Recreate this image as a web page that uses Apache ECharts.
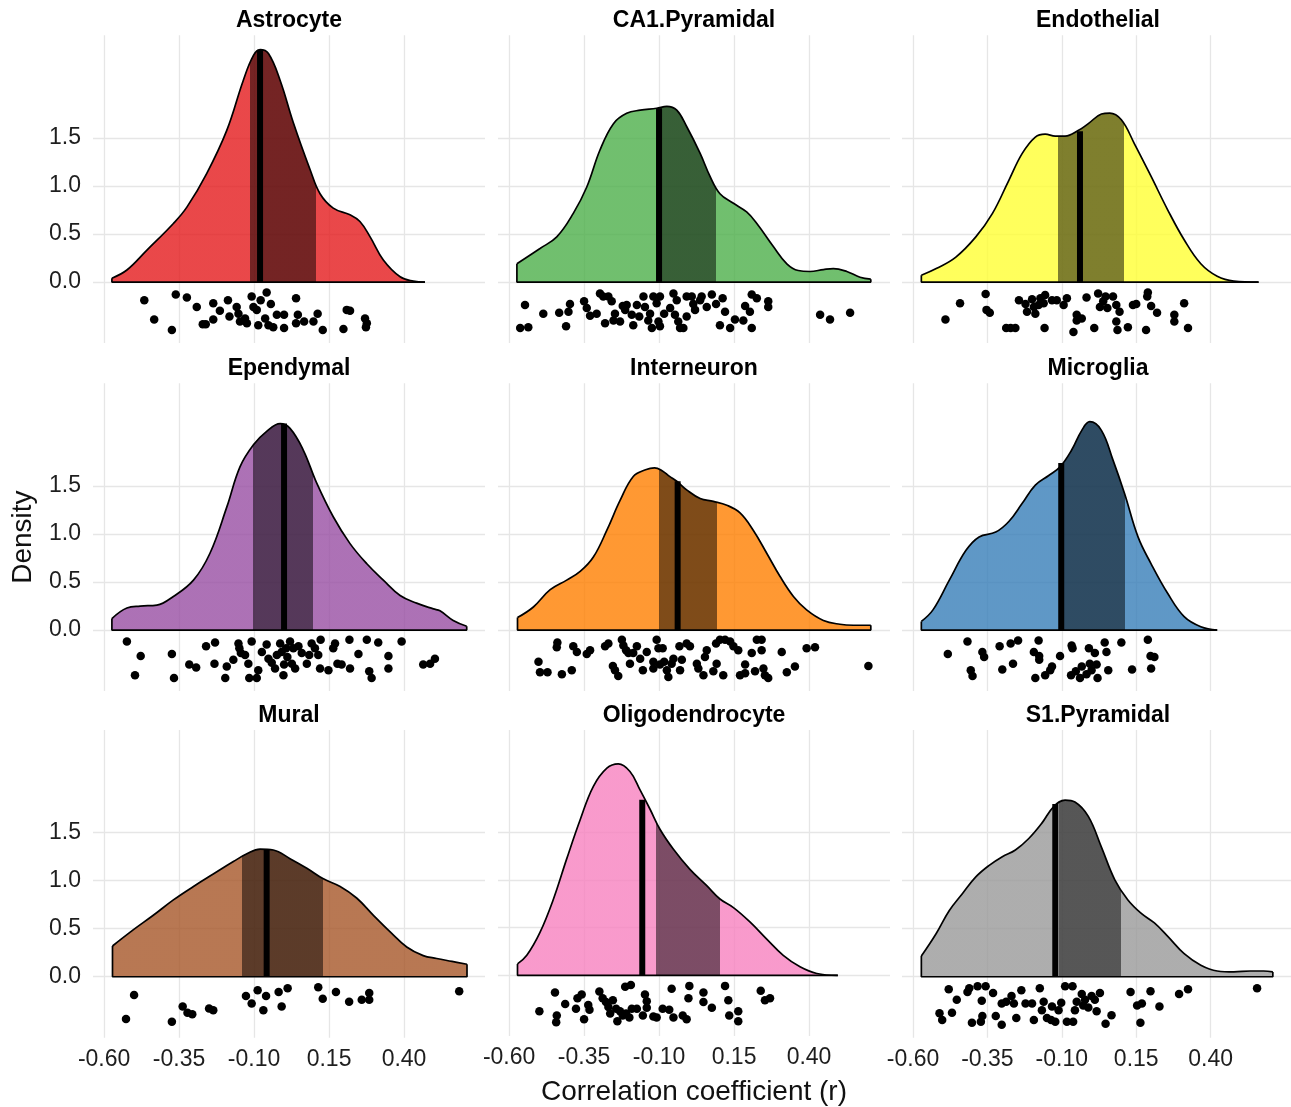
<!DOCTYPE html>
<html><head><meta charset="utf-8">
<script src="https://cdn.jsdelivr.net/npm/echarts@6/dist/echarts.min.js"></script>
<style>html,body{margin:0;padding:0;background:#fff}#c{width:1291px;height:1107px}</style>
</head><body><div id="c"></div>
<script>
const cellTypes = ['Astrocyte','CA1.Pyramidal','Endothelial','Ependymal','Interneuron','Microglia','Mural','Oligodendrocyte','S1.Pyramidal'];
const baseColors = ['#E41A1C','#4DAF4A','#FFFF33','#984EA3','#FF7F00','#377EB8','#A65628','#F781BF','#999999'];
const xTicks = [-0.6,-0.35,-0.1,0.15,0.4];
const yTicks = [0,0.5,1,1.5];

const astrocyteDensity = [[-0.574,0.04],[-0.524,0.125],[-0.458,0.33],[-0.369,0.61],[-0.324,0.78],[-0.258,1.13],[-0.191,1.58],[-0.136,2.10],[-0.102,2.36],[-0.08,2.42],[-0.052,2.38],[-0.013,2.10],[0.031,1.66],[0.087,1.17],[0.12,0.92],[0.164,0.77],[0.22,0.70],[0.253,0.63],[0.287,0.47],[0.331,0.23],[0.387,0.055],[0.431,0.01],[0.47,0.0]];
const ca1Density = [[-0.574,0.19],[-0.497,0.35],[-0.441,0.47],[-0.386,0.715],[-0.341,0.99],[-0.297,1.375],[-0.252,1.65],[-0.208,1.757],[-0.163,1.79],[-0.108,1.81],[-0.074,1.83],[-0.041,1.79],[-0.008,1.62],[0.037,1.34],[0.07,1.10],[0.103,0.92],[0.148,0.82],[0.192,0.73],[0.226,0.61],[0.281,0.37],[0.326,0.19],[0.364,0.12],[0.403,0.11],[0.448,0.13],[0.481,0.14],[0.526,0.11],[0.57,0.05],[0.606,0.03]];
const endothelialDensity = [[-0.572,0.07],[-0.522,0.14],[-0.456,0.26],[-0.389,0.47],[-0.333,0.715],[-0.278,1.06],[-0.233,1.34],[-0.189,1.51],[-0.156,1.54],[-0.122,1.52],[-0.089,1.52],[-0.044,1.58],[-0.011,1.65],[0.033,1.75],[0.061,1.76],[0.1,1.69],[0.144,1.44],[0.2,1.10],[0.256,0.75],[0.311,0.44],[0.367,0.19],[0.422,0.06],[0.478,0.01],[0.561,0.0]];
const ependymalDensity = [[-0.574,0.12],[-0.524,0.23],[-0.48,0.25],[-0.424,0.26],[-0.369,0.35],[-0.302,0.52],[-0.247,0.80],[-0.191,1.28],[-0.147,1.70],[-0.102,1.93],[-0.058,2.07],[-0.013,2.15],[0.02,2.10],[0.064,1.875],[0.109,1.53],[0.164,1.18],[0.22,0.90],[0.276,0.69],[0.331,0.52],[0.387,0.36],[0.442,0.28],[0.498,0.22],[0.52,0.2],[0.564,0.10],[0.609,0.04]];
const interneuronDensity = [[-0.572,0.13],[-0.519,0.24],[-0.463,0.42],[-0.408,0.52],[-0.363,0.61],[-0.319,0.76],[-0.274,1.04],[-0.23,1.35],[-0.186,1.60],[-0.145,1.67],[-0.115,1.69],[-0.09,1.66],[-0.065,1.60],[-0.041,1.55],[-0.008,1.46],[0.037,1.37],[0.081,1.34],[0.126,1.30],[0.17,1.22],[0.214,1.04],[0.259,0.80],[0.303,0.56],[0.348,0.35],[0.392,0.21],[0.448,0.10],[0.503,0.06],[0.548,0.05],[0.606,0.05]];
const microgliaDensity = [[-0.572,0.09],[-0.533,0.21],[-0.478,0.52],[-0.422,0.83],[-0.378,0.97],[-0.322,1.02],[-0.278,1.13],[-0.233,1.32],[-0.189,1.51],[-0.144,1.61],[-0.106,1.70],[-0.067,1.875],[-0.033,2.08],[-0.006,2.17],[0.033,2.08],[0.072,1.77],[0.111,1.42],[0.156,0.97],[0.2,0.69],[0.256,0.38],[0.311,0.14],[0.367,0.035],[0.422,0.0]];
const muralDensity = [[-0.572,0.32],[-0.502,0.49],[-0.436,0.64],[-0.369,0.80],[-0.302,0.94],[-0.236,1.07],[-0.169,1.20],[-0.124,1.28],[-0.08,1.33],[-0.036,1.32],[0.02,1.23],[0.076,1.13],[0.131,1.02],[0.187,0.94],[0.242,0.82],[0.298,0.64],[0.353,0.47],[0.409,0.31],[0.464,0.22],[0.509,0.19],[0.56,0.16],[0.61,0.13]];
const oligodendrocyteDensity = [[-0.572,0.12],[-0.541,0.21],[-0.497,0.45],[-0.452,0.80],[-0.408,1.22],[-0.363,1.63],[-0.319,1.98],[-0.274,2.17],[-0.236,2.215],[-0.197,2.135],[-0.163,1.94],[-0.13,1.74],[-0.097,1.53],[-0.052,1.32],[0.003,1.11],[0.059,0.94],[0.103,0.80],[0.148,0.71],[0.203,0.56],[0.259,0.38],[0.314,0.21],[0.37,0.09],[0.426,0.02],[0.496,0.0]];
const s1Density = [[-0.572,0.215],[-0.522,0.45],[-0.478,0.69],[-0.433,0.87],[-0.389,1.04],[-0.344,1.16],[-0.3,1.25],[-0.256,1.32],[-0.211,1.44],[-0.167,1.60],[-0.128,1.77],[-0.089,1.84],[-0.056,1.82],[-0.011,1.67],[0.033,1.35],[0.078,1.01],[0.122,0.80],[0.167,0.66],[0.211,0.56],[0.256,0.42],[0.311,0.24],[0.367,0.12],[0.422,0.06],[0.478,0.05],[0.533,0.06],[0.578,0.06],[0.609,0.05]];

const q1Values = [-0.113,-0.11,-0.113,-0.102,-0.1,-0.1,-0.139,-0.11,-0.111];
const medianValues = [-0.08,-0.1,-0.039,0.0,-0.038,-0.102,-0.058,-0.156,-0.122];
const q3Values = [0.107,0.09,0.108,0.096,0.092,0.111,0.131,0.103,0.1];
const medianHeights = [2.42,1.81,1.57,2.15,1.55,1.74,1.32,1.84,1.80];

const astrocytePoints = [[-0.466,-0.19],[-0.433,-0.39],[-0.374,-0.5],[-0.361,-0.13],[-0.324,-0.16],[-0.291,-0.26],[-0.271,-0.44],[-0.261,-0.44],[-0.236,-0.22],[-0.236,-0.39],[-0.214,-0.3],[-0.187,-0.19],[-0.182,-0.36],[-0.158,-0.26],[-0.152,-0.33],[-0.147,-0.41],[-0.13,-0.38],[-0.124,-0.43],[-0.108,-0.15],[-0.102,-0.26],[-0.091,-0.29],[-0.086,-0.45],[-0.078,-0.19],[-0.063,-0.38],[-0.058,-0.11],[-0.052,-0.45],[-0.044,-0.23],[-0.036,-0.47],[-0.024,-0.34],[0.0,-0.34],[0.0,-0.48],[0.04,-0.17],[0.046,-0.34],[0.04,-0.43],[0.067,-0.41],[0.098,-0.41],[0.112,-0.33],[0.129,-0.5],[0.198,-0.49],[0.209,-0.29],[0.22,-0.3],[0.27,-0.38],[0.273,-0.47],[0.276,-0.43]];
const ca1Points = [[-0.547,-0.24],[-0.563,-0.48],[-0.536,-0.47],[-0.486,-0.33],[-0.433,-0.32],[-0.41,-0.46],[-0.397,-0.23],[-0.402,-0.31],[-0.35,-0.2],[-0.341,-0.27],[-0.33,-0.35],[-0.308,-0.33],[-0.297,-0.12],[-0.286,-0.15],[-0.28,-0.43],[-0.269,-0.15],[-0.258,-0.2],[-0.252,-0.4],[-0.247,-0.33],[-0.23,-0.41],[-0.221,-0.25],[-0.213,-0.29],[-0.208,-0.24],[-0.191,-0.34],[-0.186,-0.45],[-0.174,-0.24],[-0.166,-0.36],[-0.152,-0.15],[-0.147,-0.26],[-0.136,-0.4],[-0.13,-0.33],[-0.124,-0.48],[-0.119,-0.15],[-0.108,-0.22],[-0.102,-0.41],[-0.097,-0.15],[-0.097,-0.46],[-0.083,-0.33],[-0.063,-0.27],[-0.052,-0.12],[-0.047,-0.34],[-0.041,-0.19],[-0.036,-0.41],[-0.03,-0.48],[-0.019,-0.48],[-0.008,-0.15],[-0.008,-0.36],[0.009,-0.15],[0.014,-0.23],[0.02,-0.29],[0.037,-0.19],[0.042,-0.15],[0.059,-0.26],[0.076,-0.13],[0.09,-0.23],[0.103,-0.45],[0.112,-0.17],[0.12,-0.31],[0.137,-0.48],[0.153,-0.39],[0.187,-0.25],[0.181,-0.4],[0.203,-0.31],[0.209,-0.48],[0.209,-0.13],[0.226,-0.17],[0.264,-0.2],[0.264,-0.26],[0.437,-0.34],[0.47,-0.39],[0.537,-0.32]];
const endothelialPoints = [[-0.491,-0.39],[-0.442,-0.22],[-0.356,-0.125],[-0.353,-0.29],[-0.342,-0.32],[-0.287,-0.48],[-0.272,-0.48],[-0.256,-0.48],[-0.244,-0.19],[-0.222,-0.23],[-0.217,-0.31],[-0.2,-0.18],[-0.194,-0.26],[-0.189,-0.33],[-0.178,-0.24],[-0.172,-0.17],[-0.161,-0.22],[-0.158,-0.48],[-0.156,-0.135],[-0.133,-0.19],[-0.117,-0.19],[-0.094,-0.24],[-0.083,-0.17],[-0.061,-0.52],[-0.05,-0.34],[-0.05,-0.4],[-0.033,-0.38],[-0.017,-0.16],[0.009,-0.48],[0.022,-0.12],[0.028,-0.26],[0.039,-0.2],[0.047,-0.15],[0.053,-0.27],[0.072,-0.15],[0.083,-0.24],[0.083,-0.41],[0.087,-0.5],[0.094,-0.31],[0.122,-0.47],[0.139,-0.24],[0.15,-0.23],[0.183,-0.5],[0.189,-0.11],[0.187,-0.15],[0.2,-0.25],[0.22,-0.32],[0.278,-0.34],[0.278,-0.41],[0.311,-0.22],[0.324,-0.48]];
const ependymalPoints = [[-0.524,-0.12],[-0.478,-0.27],[-0.497,-0.47],[-0.374,-0.25],[-0.367,-0.5],[-0.316,-0.36],[-0.293,-0.39],[-0.26,-0.17],[-0.23,-0.13],[-0.232,-0.35],[-0.191,-0.38],[-0.196,-0.5],[-0.169,-0.31],[-0.152,-0.14],[-0.149,-0.19],[-0.144,-0.24],[-0.13,-0.26],[-0.119,-0.35],[-0.116,-0.5],[-0.108,-0.12],[-0.091,-0.5],[-0.086,-0.42],[-0.074,-0.23],[-0.058,-0.15],[-0.052,-0.3],[-0.041,-0.34],[-0.03,-0.4],[-0.024,-0.26],[-0.013,-0.14],[-0.008,-0.23],[-0.002,-0.47],[0.0,-0.36],[0.007,-0.19],[0.011,-0.28],[0.02,-0.12],[0.026,-0.35],[0.031,-0.19],[0.037,-0.4],[0.048,-0.17],[0.059,-0.24],[0.076,-0.35],[0.084,-0.26],[0.092,-0.14],[0.103,-0.19],[0.114,-0.26],[0.122,-0.1],[0.12,-0.4],[0.148,-0.42],[0.164,-0.19],[0.17,-0.14],[0.178,-0.35],[0.192,-0.36],[0.218,-0.1],[0.22,-0.4],[0.248,-0.25],[0.276,-0.1],[0.284,-0.43],[0.292,-0.5],[0.314,-0.13],[0.348,-0.27],[0.348,-0.4],[0.392,-0.12],[0.464,-0.36],[0.487,-0.35],[0.503,-0.3]];
const interneuronPoints = [[-0.502,-0.33],[-0.497,-0.44],[-0.472,-0.44],[-0.424,-0.46],[-0.391,-0.42],[-0.439,-0.13],[-0.441,-0.18],[-0.386,-0.17],[-0.374,-0.23],[-0.341,-0.25],[-0.33,-0.21],[-0.28,-0.17],[-0.269,-0.14],[-0.254,-0.375],[-0.247,-0.42],[-0.236,-0.48],[-0.224,-0.1],[-0.219,-0.16],[-0.21,-0.21],[-0.202,-0.24],[-0.197,-0.35],[-0.186,-0.24],[-0.174,-0.17],[-0.163,-0.3],[-0.154,-0.42],[-0.141,-0.23],[-0.119,-0.33],[-0.119,-0.4],[-0.108,-0.1],[-0.102,-0.19],[-0.097,-0.36],[-0.088,-0.19],[-0.083,-0.33],[-0.074,-0.42],[-0.069,-0.49],[-0.058,-0.35],[-0.052,-0.3],[-0.032,-0.17],[-0.03,-0.42],[-0.024,-0.31],[-0.008,-0.14],[0.003,-0.17],[0.026,-0.35],[0.031,-0.4],[0.053,-0.28],[0.048,-0.47],[0.059,-0.21],[0.081,-0.43],[0.09,-0.14],[0.103,-0.1],[0.092,-0.35],[0.114,-0.47],[0.12,-0.1],[0.137,-0.12],[0.148,-0.17],[0.164,-0.21],[0.17,-0.47],[0.187,-0.36],[0.187,-0.45],[0.209,-0.24],[0.22,-0.43],[0.226,-0.1],[0.242,-0.1],[0.242,-0.21],[0.248,-0.4],[0.253,-0.47],[0.264,-0.5],[0.309,-0.23],[0.326,-0.44],[0.353,-0.38],[0.392,-0.19],[0.42,-0.18],[0.598,-0.375]];
const microgliaPoints = [[-0.483,-0.25],[-0.417,-0.12],[-0.406,-0.42],[-0.4,-0.48],[-0.367,-0.23],[-0.361,-0.28],[-0.309,-0.17],[-0.3,-0.41],[-0.272,-0.14],[-0.264,-0.35],[-0.247,-0.11],[-0.194,-0.23],[-0.189,-0.5],[-0.178,-0.11],[-0.176,-0.27],[-0.176,-0.31],[-0.156,-0.47],[-0.139,-0.42],[-0.133,-0.38],[-0.106,-0.27],[-0.067,-0.16],[-0.064,-0.19],[-0.069,-0.47],[-0.053,-0.43],[-0.039,-0.5],[-0.033,-0.38],[-0.017,-0.46],[-0.009,-0.19],[-0.006,-0.35],[0.0,-0.42],[0.011,-0.24],[0.017,-0.36],[0.02,-0.5],[0.044,-0.13],[0.05,-0.23],[0.056,-0.42],[0.1,-0.13],[0.136,-0.41],[0.189,-0.1],[0.198,-0.27],[0.211,-0.28],[0.2,-0.4]];
const muralPoints = [[-0.5,-0.19],[-0.527,-0.44],[-0.374,-0.47],[-0.338,-0.31],[-0.322,-0.375],[-0.306,-0.39],[-0.25,-0.33],[-0.236,-0.35],[-0.127,-0.2],[-0.108,-0.28],[-0.088,-0.14],[-0.069,-0.35],[-0.06,-0.2],[-0.018,-0.16],[-0.008,-0.31],[0.012,-0.12],[0.114,-0.11],[0.129,-0.23],[0.173,-0.16],[0.217,-0.26],[0.259,-0.24],[0.284,-0.17],[0.284,-0.24],[0.584,-0.15]];
const oligodendrocytePoints = [[-0.499,-0.375],[-0.447,-0.18],[-0.441,-0.42],[-0.443,-0.49],[-0.413,-0.3],[-0.377,-0.35],[-0.372,-0.24],[-0.358,-0.2],[-0.336,-0.31],[-0.332,-0.36],[-0.35,-0.46],[-0.299,-0.17],[-0.288,-0.24],[-0.277,-0.28],[-0.269,-0.33],[-0.263,-0.4],[-0.254,-0.26],[-0.243,-0.35],[-0.239,-0.48],[-0.23,-0.375],[-0.221,-0.42],[-0.213,-0.12],[-0.21,-0.4],[-0.199,-0.44],[-0.194,-0.1],[-0.191,-0.35],[-0.174,-0.35],[-0.154,-0.42],[-0.147,-0.2],[-0.141,-0.27],[-0.141,-0.34],[-0.119,-0.43],[-0.108,-0.44],[-0.088,-0.35],[-0.066,-0.36],[-0.058,-0.14],[-0.052,-0.44],[-0.021,-0.42],[-0.008,-0.46],[-0.002,-0.24],[0.001,-0.11],[0.048,-0.18],[0.048,-0.28],[0.076,-0.34],[0.12,-0.11],[0.131,-0.26],[0.134,-0.42],[0.164,-0.375],[0.164,-0.48],[0.239,-0.16],[0.253,-0.26],[0.27,-0.24]];
const s1Points = [[-0.48,-0.13],[-0.453,-0.24],[-0.511,-0.38],[-0.502,-0.45],[-0.469,-0.375],[-0.417,-0.16],[-0.411,-0.12],[-0.402,-0.48],[-0.383,-0.1],[-0.369,-0.25],[-0.367,-0.41],[-0.372,-0.47],[-0.356,-0.1],[-0.331,-0.17],[-0.322,-0.41],[-0.302,-0.5],[-0.302,-0.28],[-0.287,-0.26],[-0.269,-0.2],[-0.261,-0.28],[-0.253,-0.43],[-0.236,-0.14],[-0.222,-0.28],[-0.194,-0.45],[-0.2,-0.28],[-0.174,-0.12],[-0.167,-0.35],[-0.161,-0.26],[-0.15,-0.43],[-0.133,-0.31],[-0.136,-0.45],[-0.122,-0.47],[-0.111,-0.35],[-0.102,-0.27],[-0.089,-0.1],[-0.083,-0.47],[-0.064,-0.1],[-0.062,-0.47],[-0.056,-0.35],[-0.05,-0.26],[-0.033,-0.18],[-0.028,-0.3],[-0.022,-0.24],[-0.011,-0.32],[0.0,-0.2],[0.011,-0.24],[0.017,-0.36],[0.028,-0.17],[0.047,-0.49],[0.067,-0.4],[0.131,-0.16],[0.153,-0.3],[0.169,-0.28],[0.164,-0.48],[0.198,-0.15],[0.228,-0.31],[0.294,-0.18],[0.324,-0.13],[0.556,-0.12]];

const densities = [astrocyteDensity, ca1Density, endothelialDensity, ependymalDensity, interneuronDensity, microgliaDensity, muralDensity, oligodendrocyteDensity, s1Density];
const pointSets = [astrocytePoints, ca1Points, endothelialPoints, ependymalPoints, interneuronPoints, microgliaPoints, muralPoints, oligodendrocytePoints, s1Points];

// layout
const colLeft = [93, 498, 902];
const rowTop = [35.3, 383.3, 730];
const panelW = 392, panelH = 307.7;
const xMin = -0.637, xMax = 0.67, yMin = -0.635, yMax = 2.57;
const FONT = '"Liberation Sans", Arial, Helvetica, sans-serif';

function hexRgb(h){ return [parseInt(h.slice(1,3),16), parseInt(h.slice(3,5),16), parseInt(h.slice(5,7),16)]; }
function light(h){ const c = hexRgb(h); return `rgba(${c[0]},${c[1]},${c[2]},0.8)`; }
function dark(h){ const c = hexRgb(h).map(v => Math.round(v*0.444)); return `rgba(${c[0]},${c[1]},${c[2]},0.9)`; }

const grids = [], xAxes = [], yAxes = [], series = [], visualMaps = [], titles = [];
cellTypes.forEach((name, i) => {
  const r = Math.floor(i/3), c = i % 3;
  grids.push({left: colLeft[c], top: rowTop[r], width: panelW, height: panelH, containLabel: false});
  xAxes.push({
    type: 'value', gridIndex: i, min: xMin, max: xMax,
    axisLine: {show: false}, axisTick: {show: false}, splitLine: {show: false},
    axisLabel: {show: r === 2, customValues: xTicks, formatter: v => v.toFixed(2), fontSize: 23, color: '#1e1e1e', fontFamily: FONT, margin: 10},
    name: (i === 7) ? 'Correlation coefficient (r)' : '', nameLocation: 'middle', nameGap: 42,
    nameTextStyle: {fontSize: 28, color: '#111', fontFamily: FONT}
  });
  yAxes.push({
    type: 'value', gridIndex: i, min: yMin, max: yMax,
    axisLine: {show: false}, axisTick: {show: false}, splitLine: {show: false},
    axisLabel: {show: c === 0, customValues: yTicks, formatter: v => v.toFixed(1), fontSize: 23, color: '#1e1e1e', fontFamily: FONT, margin: 12},
    name: (i === 3) ? 'Density' : '', nameLocation: 'middle', nameRotate: 90, nameGap: 56,
    nameTextStyle: {fontSize: 28, color: '#111', fontFamily: FONT}
  });
  titles.push({text: name, left: colLeft[c] + panelW/2, top: rowTop[r] - 26, textAlign: 'center', padding: 0,
    textStyle: {fontSize: 23, fontWeight: 'bold', color: '#000', fontFamily: FONT}});

  const d = densities[i];
  const n = d.length - 1;
  const base = series.length;
  series.push({
    type: 'line', xAxisIndex: i, yAxisIndex: i, data: d, smooth: 0.4,
    showSymbol: false, symbol: 'none', z: 10,
    lineStyle: {color: '#000', width: 1.7},
    areaStyle: {opacity: 1}, silent: true
  });
  series.push({
    type: 'line', xAxisIndex: i, yAxisIndex: i, z: 11, symbol: 'none', silent: true,
    data: [[d[0][0], d[0][1]], [d[0][0], 0], [d[n][0], 0], [d[n][0], d[n][1]]],
    lineStyle: {color: '#000', width: 1.7}
  });
  series.push({
    type: 'line', xAxisIndex: i, yAxisIndex: i, z: 12, symbol: 'none', silent: true,
    data: [[medianValues[i], 0], [medianValues[i], medianHeights[i]]],
    lineStyle: {color: '#000', width: 6, cap: 'butt'}
  });
  series.push({
    type: 'scatter', xAxisIndex: i, yAxisIndex: i, z: 13, data: pointSets[i], symbol: 'circle', symbolSize: 8.5,
    itemStyle: {color: '#000', opacity: 1}, silent: true,
    markLine: {
      silent: true, symbol: ['none','none'], label: {show: false}, animation: false,
      lineStyle: {color: '#e6e6e6', width: 1.3, type: 'solid'},
      emphasis: {disabled: true},
      data: xTicks.map(v => ({xAxis: v})).concat(yTicks.map(v => ({yAxis: v})))
    }
  });
  visualMaps.push({
    type: 'piecewise', show: false, seriesIndex: base, dimension: 0,
    pieces: [
      {lt: q1Values[i], color: light(baseColors[i])},
      {gte: q1Values[i], lte: q3Values[i], color: dark(baseColors[i])},
      {gt: q3Values[i], color: light(baseColors[i])}
    ]
  });
});

const chart = echarts.init(document.getElementById('c'), null, {renderer: 'canvas'});
chart.setOption({
  backgroundColor: '#fff', animation: false,
  title: titles, grid: grids, xAxis: xAxes, yAxis: yAxes, visualMap: visualMaps, series: series
});
</script></body></html>
